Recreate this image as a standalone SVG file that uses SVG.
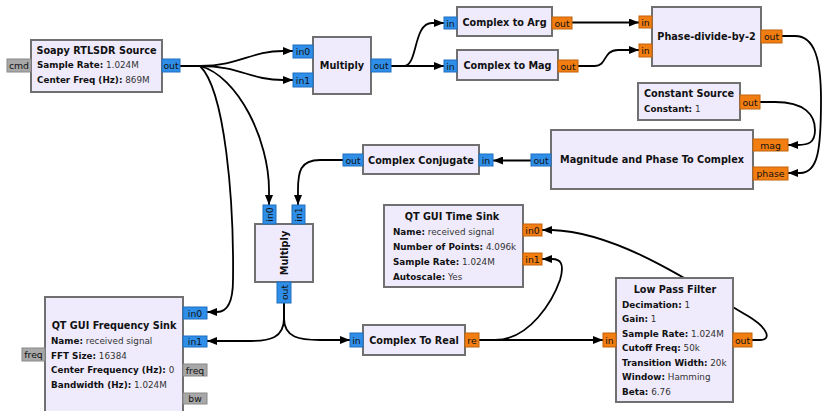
<svg xmlns="http://www.w3.org/2000/svg" width="822" height="411" viewBox="0 0 822 411">
  <defs>
    <style>
      .blk { fill: #EFEBFD; stroke: #707070; stroke-width: 2; }
      .pc { fill: #2F8FE8; stroke: #1F6FC0; stroke-width: 1; }
      .pf { fill: #F27E12; stroke: #C2620C; stroke-width: 1; }
      .pm { fill: #A8A8A8; stroke: #888888; stroke-width: 1; }
      text { font-family: "DejaVu Sans", "Liberation Sans", sans-serif; font-size: 9.7px; fill: #111; }
      .ttl { font-weight: bold; text-anchor: middle; }
      .p { font-size: 8.8px; }
      .b { font-weight: bold; }
      .v { fill: #333; }
      .pl { font-size: 9.3px; text-anchor: middle; }
      .w { fill: none; stroke: #000; stroke-width: 1.8; }
    </style>
    <marker id="arr" viewBox="0 0 10 8" refX="10" refY="4" markerWidth="10" markerHeight="8" markerUnits="userSpaceOnUse" orient="auto">
      <path d="M0,0 L10,4 L0,8 z" fill="#000"/>
    </marker>
  </defs>

  <!-- connections -->
  <g id="connectors">
    <path class="w" marker-end="url(#arr)" d="M180,66 L200,66 C240,66 250,51 283,51 L293,51"/>
    <path class="w" marker-end="url(#arr)" d="M180,66 L200,66 C240,66 250,80 283,80 L293,80"/>
    <path class="w" marker-end="url(#arr)" d="M200,66 C238,76 269,140 269,190 L269,205"/>
    <path class="w" marker-end="url(#arr)" d="M200,66 C225,90 234,200 233,280 C233,305 226,312 217,312 L207,312"/>
    <path class="w" marker-end="url(#arr)" d="M391,66 L404,66 C418,66 413,23 432,23 L444,23"/>
    <path class="w" marker-end="url(#arr)" d="M391,66 L444,66"/>
    <path class="w" marker-end="url(#arr)" d="M572,22.5 L639,22.5"/>
    <path class="w" marker-end="url(#arr)" d="M578,66 L595,66 C607,66 603,50 618,50 L639,50"/>
    <path class="w" marker-end="url(#arr)" d="M782,36 L795,36 C815,36 821,60 821,100 C821,150 818,173 800,173 L788,173"/>
    <path class="w" marker-end="url(#arr)" d="M760,102 L775,102 C805,102 815,115 815,130 C815,143 808,145 798,145 L788,145"/>
    <path class="w" marker-end="url(#arr)" d="M531,160.5 L493,160.5"/>
    <path class="w" marker-end="url(#arr)" d="M343,160 L320,160 C300,160 298,172 298,190 L298,205"/>
    <path class="w" marker-end="url(#arr)" d="M284,303 L284,318 C284,338 270,341 250,341 L207,341"/>
    <path class="w" marker-end="url(#arr)" d="M284,303 L284,318 C284,338 300,340 320,340 L350,340"/>
    <path class="w" marker-end="url(#arr)" d="M479,340 L603,340"/>
    <path class="w" marker-end="url(#arr)" d="M479,340 L495,340 C530,340 553,300 560,280 C565,263 560,259 552,259 L542,259"/>
    <path class="w" marker-end="url(#arr)" d="M752,340 L760,340 C772,340 768,328 748,316 C700,288 620,232 552,230 L542,230"/>
  </g>

  <!-- Soapy RTLSDR Source -->
  <g id="soapy_source">
    <rect class="blk" x="31" y="40" width="131" height="52"/>
    <text class="ttl" x="96.5" y="54">Soapy RTLSDR Source</text>
    <text class="p" x="37" y="68"><tspan class="b">Sample Rate:</tspan><tspan class="v"> 1.024M</tspan></text>
    <text class="p" x="37" y="83"><tspan class="b">Center Freq (Hz):</tspan><tspan class="v"> 869M</tspan></text>
    <rect class="pm" x="7" y="59" width="24" height="13"/>
    <text class="pl" x="19" y="69">cmd</text>
    <rect class="pc" x="162" y="59" width="18" height="13"/>
    <text class="pl" x="171" y="69">out</text>
  </g>

  <!-- Multiply (top) -->
  <g id="multiply_0">
    <rect class="blk" x="313" y="37" width="58" height="57"/>
    <text class="ttl" x="342" y="69">Multiply</text>
    <rect class="pc" x="293" y="45" width="20" height="13"/>
    <text class="pl" x="303" y="55">in0</text>
    <rect class="pc" x="293" y="73" width="20" height="14"/>
    <text class="pl" x="303" y="84">in1</text>
    <rect class="pc" x="371" y="59" width="20" height="13"/>
    <text class="pl" x="381" y="69">out</text>
  </g>

  <!-- Complex to Arg -->
  <g id="complex_to_arg">
    <rect class="blk" x="457" y="7" width="95" height="29"/>
    <text class="ttl" x="504.5" y="26">Complex to Arg</text>
    <rect class="pc" x="444" y="17" width="13" height="12"/>
    <text class="pl" x="450.5" y="26.5">in</text>
    <rect class="pf" x="552" y="17" width="20" height="12"/>
    <text class="pl" x="562" y="26.5">out</text>
  </g>

  <!-- Complex to Mag -->
  <g id="complex_to_mag">
    <rect class="blk" x="457" y="50" width="101" height="30"/>
    <text class="ttl" x="507.5" y="69">Complex to Mag</text>
    <rect class="pc" x="444" y="60" width="13" height="12"/>
    <text class="pl" x="450.5" y="69.5">in</text>
    <rect class="pf" x="558" y="60" width="20" height="12"/>
    <text class="pl" x="568" y="69.5">out</text>
  </g>

  <!-- Phase-divide-by-2 -->
  <g id="phase_divide">
    <rect class="blk" x="652" y="7" width="109" height="59"/>
    <text class="ttl" x="706.5" y="40">Phase-divide-by-2</text>
    <rect class="pf" x="639" y="16" width="13" height="12"/>
    <text class="pl" x="645.5" y="25.5">in</text>
    <rect class="pf" x="639" y="44" width="13" height="13"/>
    <text class="pl" x="645.5" y="54">in</text>
    <rect class="pf" x="761" y="30" width="21" height="13"/>
    <text class="pl" x="771.5" y="40">out</text>
  </g>

  <!-- Constant Source -->
  <g id="constant_source">
    <rect class="blk" x="638" y="83" width="102" height="37"/>
    <text class="ttl" x="689" y="97">Constant Source</text>
    <text class="p" x="644" y="112"><tspan class="b">Constant:</tspan><tspan class="v"> 1</tspan></text>
    <rect class="pf" x="740" y="95" width="20" height="14"/>
    <text class="pl" x="750" y="105.5">out</text>
  </g>

  <!-- Magnitude and Phase To Complex -->
  <g id="mag_phase_to_complex">
    <rect class="blk" x="551" y="130" width="202" height="59"/>
    <text class="ttl" x="652" y="163">Magnitude and Phase To Complex</text>
    <rect class="pf" x="753" y="139" width="35" height="12"/>
    <text class="pl" x="770.5" y="148.5">mag</text>
    <rect class="pf" x="753" y="167" width="35" height="13"/>
    <text class="pl" x="770.5" y="177">phase</text>
    <rect class="pc" x="531" y="154" width="20" height="12"/>
    <text class="pl" x="541" y="163.5">out</text>
  </g>

  <!-- Complex Conjugate -->
  <g id="complex_conjugate">
    <rect class="blk" x="363" y="145" width="116" height="29"/>
    <text class="ttl" x="421" y="164">Complex Conjugate</text>
    <rect class="pc" x="343" y="154" width="20" height="12"/>
    <text class="pl" x="353" y="163.5">out</text>
    <rect class="pc" x="479" y="154" width="14" height="12"/>
    <text class="pl" x="486" y="163.5">in</text>
  </g>

  <!-- Multiply (rotated) -->
  <g id="multiply_1">
    <rect class="blk" x="255" y="224" width="58" height="58"/>
    <text class="ttl" transform="translate(287.5,253) rotate(-90)">Multiply</text>
    <rect class="pc" x="263" y="205" width="13" height="19"/>
    <text class="pl" transform="translate(273,214.5) rotate(-90)">in0</text>
    <rect class="pc" x="292" y="205" width="13" height="19"/>
    <text class="pl" transform="translate(302,214.5) rotate(-90)">in1</text>
    <rect class="pc" x="277" y="282" width="14" height="21"/>
    <text class="pl" transform="translate(287.5,292.5) rotate(-90)">out</text>
  </g>

  <!-- QT GUI Time Sink -->
  <g id="time_sink">
    <rect class="blk" x="384" y="205" width="139" height="82"/>
    <text class="ttl" x="452" y="220">QT GUI Time Sink</text>
    <text class="p" x="393" y="235"><tspan class="b">Name:</tspan><tspan class="v"> received signal</tspan></text>
    <text class="p" x="393" y="250"><tspan class="b">Number of Points:</tspan><tspan class="v"> 4.096k</tspan></text>
    <text class="p" x="393" y="265"><tspan class="b">Sample Rate:</tspan><tspan class="v"> 1.024M</tspan></text>
    <text class="p" x="393" y="280"><tspan class="b">Autoscale:</tspan><tspan class="v"> Yes</tspan></text>
    <rect class="pf" x="523" y="224" width="19" height="12"/>
    <text class="pl" x="532.5" y="233.5">in0</text>
    <rect class="pf" x="523" y="253" width="19" height="12"/>
    <text class="pl" x="532.5" y="262.5">in1</text>
  </g>

  <!-- Low Pass Filter -->
  <g id="low_pass_filter">
    <rect class="blk" x="616" y="278" width="117" height="124"/>
    <text class="ttl" x="675" y="293">Low Pass Filter</text>
    <text class="p" x="622" y="307.5"><tspan class="b">Decimation:</tspan><tspan class="v"> 1</tspan></text>
    <text class="p" x="622" y="322"><tspan class="b">Gain:</tspan><tspan class="v"> 1</tspan></text>
    <text class="p" x="622" y="336.5"><tspan class="b">Sample Rate:</tspan><tspan class="v"> 1.024M</tspan></text>
    <text class="p" x="622" y="351"><tspan class="b">Cutoff Freq:</tspan><tspan class="v"> 50k</tspan></text>
    <text class="p" x="622" y="365.5"><tspan class="b">Transition Width:</tspan><tspan class="v"> 20k</tspan></text>
    <text class="p" x="622" y="380"><tspan class="b">Window:</tspan><tspan class="v"> Hamming</tspan></text>
    <text class="p" x="622" y="394.5"><tspan class="b">Beta:</tspan><tspan class="v"> 6.76</tspan></text>
    <rect class="pf" x="603" y="333" width="13" height="14"/>
    <text class="pl" x="609.5" y="343.5">in</text>
    <rect class="pf" x="733" y="333" width="19" height="14"/>
    <text class="pl" x="742.5" y="343.5">out</text>
  </g>

  <!-- QT GUI Frequency Sink -->
  <g id="freq_sink">
    <rect class="blk" x="45" y="297" width="138" height="124"/>
    <text class="ttl" x="114" y="329">QT GUI Frequency Sink</text>
    <text class="p" x="51" y="344"><tspan class="b">Name:</tspan><tspan class="v"> received signal</tspan></text>
    <text class="p" x="51" y="358.5"><tspan class="b">FFT Size:</tspan><tspan class="v"> 16384</tspan></text>
    <text class="p" x="51" y="373"><tspan class="b">Center Frequency (Hz):</tspan><tspan class="v"> 0</tspan></text>
    <text class="p" x="51" y="387.5"><tspan class="b">Bandwidth (Hz):</tspan><tspan class="v"> 1.024M</tspan></text>
    <rect class="pc" x="183" y="307" width="24" height="12"/>
    <text class="pl" x="195" y="316.5">in0</text>
    <rect class="pc" x="183" y="336" width="24" height="11"/>
    <text class="pl" x="195" y="345">in1</text>
    <rect class="pm" x="183" y="364" width="24" height="12"/>
    <text class="pl" x="195" y="373.5">freq</text>
    <rect class="pm" x="183" y="393" width="24" height="11"/>
    <text class="pl" x="195" y="402">bw</text>
    <rect class="pm" x="22" y="348" width="23" height="13"/>
    <text class="pl" x="33.5" y="358">freq</text>
  </g>

  <!-- Complex To Real -->
  <g id="complex_to_real">
    <rect class="blk" x="363" y="325" width="102" height="30"/>
    <text class="ttl" x="414" y="344">Complex To Real</text>
    <rect class="pc" x="350" y="333" width="13" height="14"/>
    <text class="pl" x="356.5" y="343.5">in</text>
    <rect class="pf" x="465" y="333" width="14" height="14"/>
    <text class="pl" x="472" y="343.5">re</text>
  </g>
</svg>
